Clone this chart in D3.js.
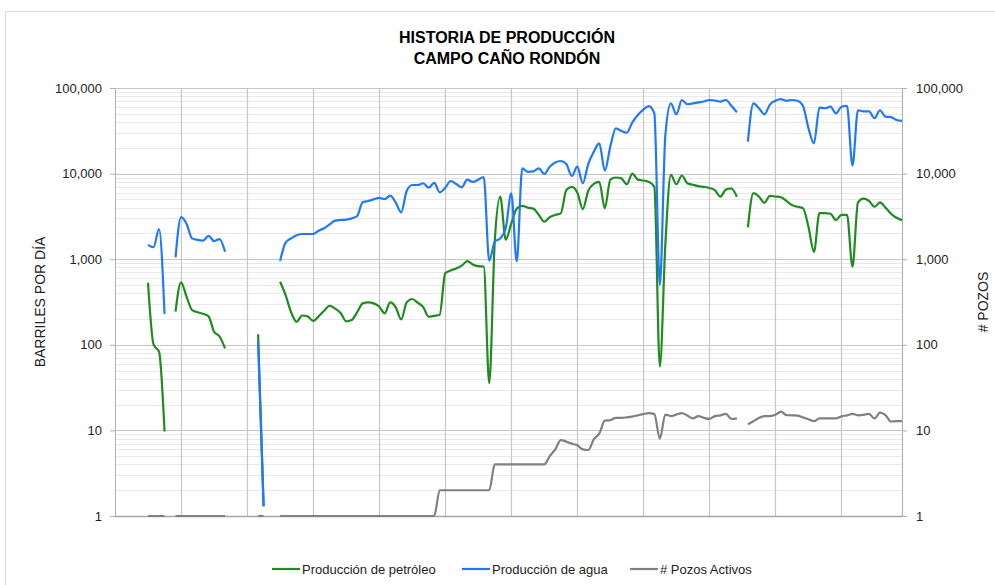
<!DOCTYPE html>
<html lang="es">
<head>
<meta charset="UTF-8">
<title>Historia de producción - Campo Caño Rondón</title>
<script src="https://d3js.org/d3.v7.min.js"></script>
<style>
  body { margin: 0; background: #fff; }
  text { font-family: "Liberation Sans", Arial, sans-serif; }
</style>
</head>
<body>
<script>
// datos mensuales (un valor por mes, null = sin producción)
const petroleo = [
  null, null, null, null, null, null, 530, 101, 83, 9.7,
  null, 244, 537, 365, 255, 240, 230, 215, 142, 125,
  91, null, null, null, null, null, 133, 1.3, null, null,
  546, 380, 240, 186, 220, 215, 190, 215, 250, 286,
  265, 235, 188, 195, 240, 305, 313, 305, 280, 233,
  313, 275, 198, 313, 343, 310, 275, 213, 218, 225,
  684, 740, 780, 840, 950, 870, 830, 820, 35.5, 1600,
  5370, 1690, 2600, 3900, 4200, 4000, 3900, 3300, 2740, 3100,
  3290, 3430, 6430, 7000, 6000, 3850, 6300, 7600, 8000, 3930,
  8500, 9000, 8800, 7510, 10000, 8500, 8300, 8000, 7000, 55.5,
  1500, 9640, 7510, 9500, 7710, 7400, 7130, 7000, 6800, 6400,
  5370, 6500, 6700, 5370, null, 2350, 5900, 5400, 4550, 5500,
  5400, 5300, 4800, 4300, 4100, 3950, 2400, 1220, 3450, 3450,
  3400, 2860, 3300, 3300, 820, 4600, 5100, 4800, 4100, 4600,
  4000, 3400, 3050, 2860
];

const agua = [
  null, null, null, null, null, null, 1470, 1380, 2250, 230,
  null, 1050, 3100, 2600, 1750, 1680, 1650, 1870, 1630, 1720,
  1220, null, null, null, null, null, 110, 1.3, null, null,
  953, 1560, 1750, 1900, 1970, 1970, 1970, 2150, 2300, 2550,
  2820, 2870, 2900, 3000, 3200, 4625, 4790, 5000, 5200, 5020,
  5540, 4600, 3530, 6270, 7360, 7360, 7710, 6840, 7800, 6040,
  6810, 8200, 7550, 6920, 8490, 8000, 8500, 9120, 960, 1600,
  1750, 2300, 5890, 940, 11530, 10500, 10600, 11530, 9890, 12060,
  13500, 14030, 12950, 9370, 12060, 7710, 13000, 18000, 22500, 10800,
  20650, 33800, 31500, 30000, 39700, 48400, 56000, 61500, 50600, 500,
  28000, 66000, 49300, 72400, 64600, 66000, 67800, 69500, 72400, 71500,
  69200, 72400, 62000, 52000, null, 23600, 66000, 58000, 49300, 64000,
  71000, 74000, 71000, 72400, 71000, 62000, 34000, 22600, 59000, 58000,
  60500, 50600, 60500, 62000, 12400, 55000, 53400, 53400, 44300, 55000,
  46200, 45600, 42300, 41200
];

const pozos = [
  null, null, null, null, null, null, 1, 1, 1, 1,
  null, 1, 1, 1, 1, 1, 1, 1, 1, 1,
  1, null, null, null, null, null, 1, 1, null, null,
  1, 1, 1, 1, 1, 1, 1, 1, 1, 1,
  1, 1, 1, 1, 1, 1, 1, 1, 1, 1,
  1, 1, 1, 1, 1, 1, 1, 1, 1, 2,
  2, 2, 2, 2, 2, 2, 2, 2, 2, 4,
  4, 4, 4, 4, 4, 4, 4, 4, 4, 5,
  6, 7.7, 7.4, 7, 6.7, 6, 5.9, 7.9, 9.2, 13,
  13.2, 14, 14, 14.2, 14.5, 15, 15.5, 15.9, 15.5, 8,
  15.3, 14.7, 15.3, 15.9, 14.9, 13.8, 14.7, 14, 13.6, 14.7,
  15, 15.6, 13.6, 13.8, null, 11.8, 12.8, 14, 14.7, 14.7,
  15.2, 16.6, 15.1, 15, 14.9, 14.2, 13.5, 12.8, 13.8, 13.8,
  13.8, 13.8, 14.6, 15, 15.6, 15, 15.2, 15.6, 13.8, 16.1,
  15.1, 12.7, 12.8, 12.8
];

const ticksY = [1, 10, 100, 1000, 10000, 100000];
const inicioAnios = [12, 24, 36, 48, 60, 72, 84, 96, 108, 120, 132];
const series = [
  { nombre: 'Producción de petróleo', valores: petroleo, color: '#1e8c1e' },
  { nombre: 'Producción de agua', valores: agua, color: '#1f78ff' },
  { nombre: '# Pozos Activos', valores: pozos, color: '#808080' }
];

const width = 995, height = 585;
const plotLeft = 115, plotRight = 902, plotTop = 88, plotBottom = 516;

const svg = d3.select('body').append('svg')
  .attr('width', width)
  .attr('height', height);

// marco del grafico
svg.append('rect')
  .attr('x', 5.5).attr('y', 11.5)
  .attr('width', 1000).attr('height', 600)
  .attr('fill', 'none').attr('stroke', '#d9d9d9');

const x = d3.scaleLinear().domain([0, petroleo.length - 1]).range([plotLeft, plotRight]);
const y = d3.scaleLog().domain([1, 100000]).range([plotBottom, plotTop]);

// lineas menores (2..9 de cada decada)
const menores = [];
ticksY.slice(0, -1).forEach(d => { for (let k = 2; k < 10; k++) menores.push(d * k); });

svg.append('g').selectAll('line').data(menores).join('line')
  .attr('x1', plotLeft).attr('x2', plotRight)
  .attr('y1', d => Math.round(y(d)) + 0.5).attr('y2', d => Math.round(y(d)) + 0.5)
  .attr('stroke', '#e9e9e9');

svg.append('g').selectAll('line').data(ticksY.slice(1)).join('line')
  .attr('x1', plotLeft).attr('x2', plotRight)
  .attr('y1', d => Math.round(y(d)) + 0.5).attr('y2', d => Math.round(y(d)) + 0.5)
  .attr('stroke', '#c6c6c6').attr('stroke-width', 1.2);

svg.append('g').selectAll('line').data(inicioAnios.concat([petroleo.length - 1])).join('line')
  .attr('x1', d => Math.round(x(d)) + 0.5).attr('x2', d => Math.round(x(d)) + 0.5)
  .attr('y1', plotTop).attr('y2', plotBottom)
  .attr('stroke', '#c6c6c6').attr('stroke-width', 1.2);

// ejes
const fmt = d3.format(',');
const ejeIzq = svg.append('g').attr('transform', `translate(${plotLeft},0)`)
  .call(d3.axisLeft(y).tickValues(ticksY).tickFormat(fmt).tickSize(5).tickPadding(8));
const ejeDer = svg.append('g').attr('transform', `translate(${plotRight},0)`)
  .call(d3.axisRight(y).tickValues(ticksY).tickFormat(fmt).tickSize(5).tickPadding(9));
[ejeIzq, ejeDer].forEach(g => {
  g.select('.domain').attr('stroke', '#b0b0b0');
  g.selectAll('.tick line').attr('stroke', '#b0b0b0');
  g.selectAll('.tick text').attr('fill', '#222').style('font-size', '13px')
    .style('font-family', '"Liberation Sans", Arial, sans-serif');
});

svg.append('line')
  .attr('x1', plotLeft).attr('x2', plotRight)
  .attr('y1', plotBottom + 0.5).attr('y2', plotBottom + 0.5)
  .attr('stroke', '#a6a6a6').attr('stroke-width', 1.5);

// series (linea suavizada)
const linea = d3.line()
  .defined(d => d != null)
  .x((d, i) => x(i))
  .y(d => y(d))
  .curve(d3.curveMonotoneX);

svg.append('g').selectAll('path').data(series).join('path')
  .attr('d', s => linea(s.valores))
  .attr('fill', 'none')
  .attr('stroke', s => s.color)
  .attr('stroke-width', 2.2)
  .attr('stroke-linejoin', 'round');

// titulos
svg.append('text').attr('x', 507).attr('y', 43).attr('text-anchor', 'middle')
  .style('font-size', '16px').style('font-weight', 'bold').text('HISTORIA DE PRODUCCIÓN');
svg.append('text').attr('x', 507).attr('y', 64).attr('text-anchor', 'middle')
  .style('font-size', '16px').style('font-weight', 'bold').text('CAMPO CAÑO RONDÓN');

svg.append('text')
  .attr('transform', `translate(45,${(plotTop + plotBottom) / 2}) rotate(-90)`)
  .attr('text-anchor', 'middle').style('font-size', '14px').attr('fill', '#222')
  .text('BARRILES POR DÍA');
svg.append('text')
  .attr('transform', `translate(988,${(plotTop + plotBottom) / 2}) rotate(-90)`)
  .attr('text-anchor', 'middle').style('font-size', '14px').attr('fill', '#222')
  .text('# POZOS');

// leyenda
const posLeyenda = [272, 462, 630];
const ley = svg.append('g').selectAll('g').data(series).join('g')
  .attr('transform', (s, i) => `translate(${posLeyenda[i]},569)`);
ley.append('line').attr('x1', 0).attr('x2', 28)
  .attr('stroke', s => s.color).attr('stroke-width', 2.2);
ley.append('text').attr('x', 30).attr('y', 4.5)
  .style('font-size', '13px').attr('fill', '#222')
  .text(s => s.nombre);
</script>
</body>
</html>
